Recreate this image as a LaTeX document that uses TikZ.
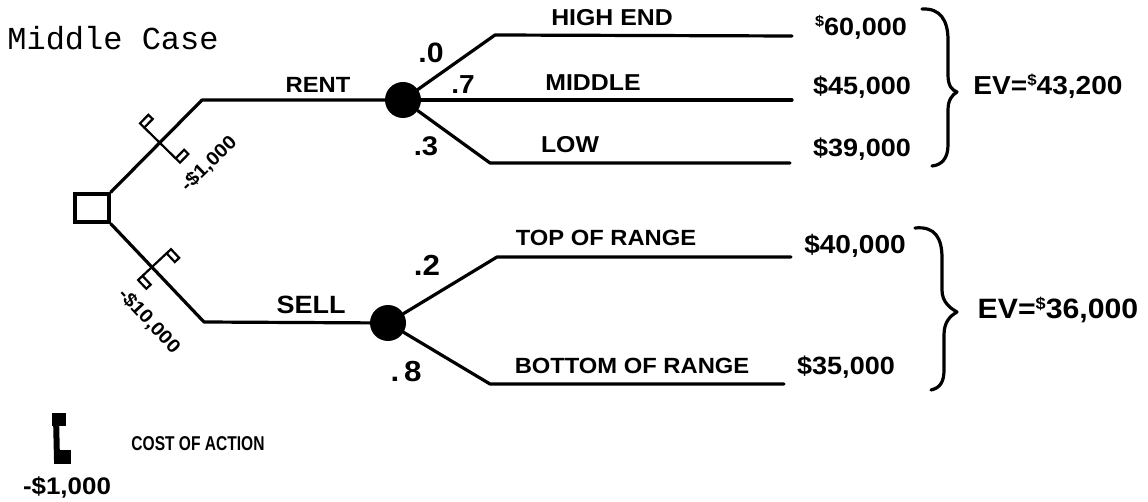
\documentclass[tikz,border=0pt]{standalone}
\usepackage{fontspec}
\usepackage{graphicx}
\newfontfamily\hand[FakeStretch=1.08]{Liberation Sans Bold}
\newfontfamily\typew{Liberation Mono}
\newcommand{\hsz}[1]{\hand\fontsize{#1}{#1}\selectfont}
\newcommand{\updollar}{\raisebox{0.35em}{\scalebox{0.6}{\$}}}
\begin{document}
\begin{tikzpicture}[x=1pt,y=-1pt,
  br/.style={line width=3.2pt, line cap=round, line join=round},
  lab/.style={inner sep=0pt, anchor=center},
  decbox/.style={draw, line width=3.4pt, minimum width=34pt, minimum height=28pt, inner sep=0pt},
  chance/.style={circle, fill=black, minimum size=36pt, inner sep=0pt},
  flag/.style={line width=2.2pt, line join=miter},
  brace/.style={line width=3.2pt, line cap=round, line join=round}]
\useasboundingbox (0,0) rectangle (1148,502);

% title
\node[lab, font=\typew\fontsize{32}{32}\selectfont] (title) at (113,38) {Middle Case};

% nodes
\node[decbox] (d) at (92,208) {};
\node[chance] (c1) at (403,100) {};
\node[chance] (c2) at (388,323) {};

\coordinate (u1) at (202,100);
\coordinate (l1) at (204,322);
\coordinate (h1) at (495,35);  \coordinate (h2) at (792,36);
\coordinate (m2) at (792,100);
\coordinate (lo1) at (490,163); \coordinate (lo2) at (790,163);
\coordinate (t1) at (497,257); \coordinate (t2) at (791,257);
\coordinate (b1) at (490,384); \coordinate (b2) at (784,384);

% branches
\draw[br] (d.north east) -- (u1) -- (c1);
\draw[br] (d.south east) -- (l1) -- (c2);
\draw[br] (c1) -- (h1) -- (h2);
\draw[br] (c1) -- (m2);
\draw[br] (c1) -- (lo1) -- (lo2);
\draw[br] (c2) -- (t1) -- (t2);
\draw[br] (c2) -- (b1) -- (b2);

% cost markers (upper)
\draw[flag] (144.3,127.6) -- (175.7,158.4);
\draw[flag] (144.3,127.6) -- (152.7,119.0) -- (148.4,114.8) -- (140.0,123.4) -- cycle;
\draw[flag] (175.7,158.4) -- (184.1,149.8) -- (188.4,154.0) -- (180.0,162.6) -- cycle;
% cost markers (lower)
\draw[flag] (142.5,275.9) -- (166.6,253.3);
\draw[flag] (166.6,253.3) -- (174.8,262.0) -- (179.2,257.9) -- (171.0,249.2) -- cycle;
\draw[flag] (142.5,275.9) -- (150.7,284.6) -- (146.3,288.7) -- (138.1,280.0) -- cycle;

\node[lab, rotate=44, font=\hsz{19}] (k1) at (209,164) {-\$1,000};
\node[lab, rotate=-47, font=\hsz{19}] (k2) at (149,321) {-\$10,000};

% branch labels
\node[lab, font=\hsz{22}] (rent) at (318,85) {RENT};
\node[lab, font=\hsz{25}] (sell) at (311,305) {SELL};

% probabilities
\node[lab, font=\hsz{28}] (p0) at (431,53) {.0};
\node[lab, font=\hsz{26}] (p7) at (463,85) {.7};
\node[lab, font=\hsz{27}] (p3) at (426,146) {.3};
\node[lab, font=\hsz{29}] (p2) at (427,265) {.2};
\node[lab, font=\hsz{29}] (p8) at (406,372) {.\,8};

% outcome labels
\node[lab, font=\hsz{23}] (hi) at (612,18) {HIGH END};
\node[lab, font=\hsz{23}] (mid) at (593,83) {MIDDLE};
\node[lab, font=\hsz{23}] (low) at (570,145) {LOW};
\node[lab, font=\hsz{22}] (top) at (606,238) {TOP OF RANGE};
\node[lab, font=\hsz{22}] (bot) at (632,366) {BOTTOM OF RANGE};

% values
\node[lab, font=\hsz{25}] (v1) at (861,27) {\updollar 60,000};
\node[lab, font=\hsz{25}] (v2) at (862,87) {\$45,000};
\node[lab, font=\hsz{25}] (v3) at (862,149) {\$39,000};
\node[lab, font=\hsz{26}] (v4) at (855,246) {\$40,000};
\node[lab, font=\hsz{25}] (v5) at (846,367) {\$35,000};

% braces
\draw[brace] (922,9) .. controls (940,8) and (948,20) .. (948,40) -- (948,75)
  .. controls (948,86) and (952,90) .. (957,92)
  .. controls (952,95) and (948,100) .. (948,110) -- (948,145)
  .. controls (948,158) and (942,165) .. (932,166);
\draw[brace] (915,228) .. controls (935,226) and (942,238) .. (942,258) -- (942,290)
  .. controls (942,302) and (950,308) .. (957,312)
  .. controls (950,316) and (944,322) .. (944,335) -- (944,370)
  .. controls (944,382) and (940,388) .. (931,390);

\node[lab, font=\hsz{26}] (ev1) at (1048,86) {EV=\updollar 43,200};
\node[lab, font=\hsz{28}] (ev2) at (1058,310) {EV=\updollar 36,000};

% legend
\fill (52,413) rectangle (66,426);
\draw[line width=6pt] (56,416) -- (57,460);
\fill (54,450) rectangle (71,464);
\node[lab, font=\hsz{20}] (cost) at (198,444) {\scalebox{0.72}[1]{COST OF ACTION}};
\node[lab, font=\hsz{24}] (leg) at (67,487) {-\$1,000};
\end{tikzpicture}
\end{document}
